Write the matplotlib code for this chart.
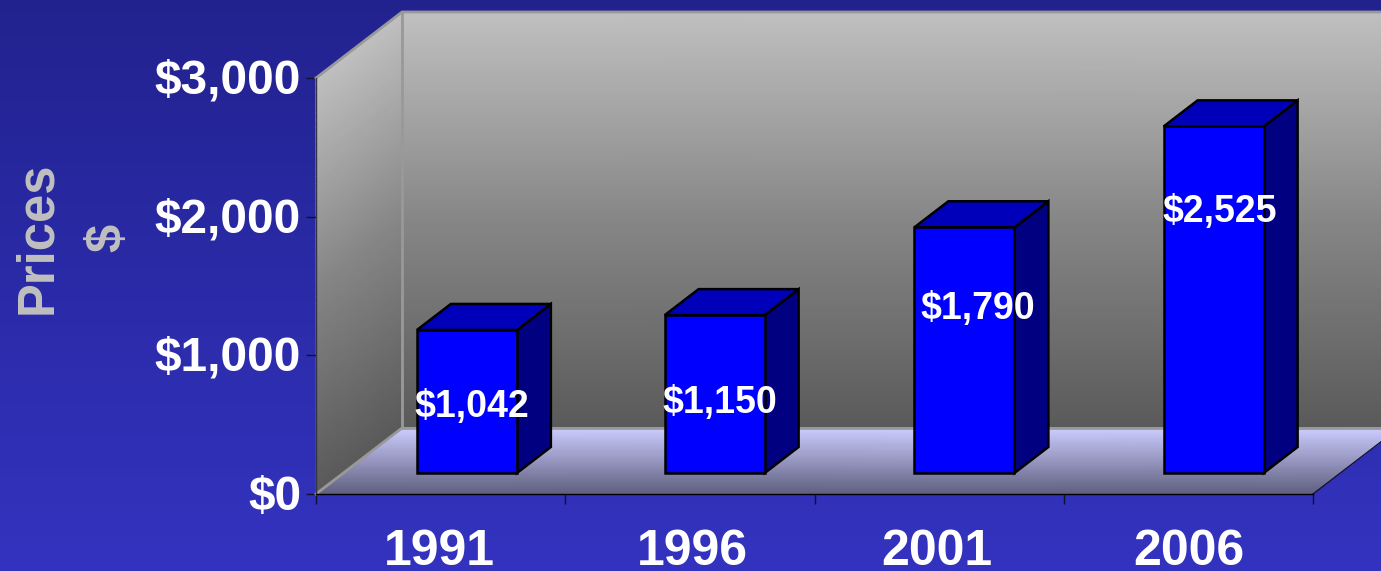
import numpy as np
import matplotlib
matplotlib.use("Agg")
import matplotlib.pyplot as plt
from matplotlib.colors import LinearSegmentedColormap
from matplotlib.patches import Polygon
from matplotlib.transforms import ScaledTranslation

# chart values
years = ["1991", "1996", "2001", "2006"]
prices = [1042, 1150, 1790, 2525]
price_labels = ["$1,042", "$1,150", "$1,790", "$2,525"]
y_ticks = [0, 1000, 2000, 3000]
y_tick_labels = ["$0", "$1,000", "$2,000", "$3,000"]

W, H = 1381, 571
plt.rcParams["font.family"] = ["Liberation Sans", "DejaVu Sans"]
plt.rcParams["font.weight"] = "bold"

fig = plt.figure(figsize=(W / 100, H / 100), dpi=100)

# slide background
bg = fig.add_axes([0, 0, 1, 1], zorder=0)
bg.axis("off")
bg_cmap = LinearSegmentedColormap.from_list("bg", ["#22228f", "#3333c0"])
bg.imshow(np.linspace(0, 1, 256).reshape(-1, 1), cmap=bg_cmap, aspect="auto")

# front plane of the chart box
ax = fig.add_axes([316 / W, (H - 494) / H, 997 / W, 416 / H], zorder=1)
ax.set_facecolor("none")
ax.set_xlim(0, 4)
ax.set_ylim(0, 3000)

px_per_value = 416 / 3000
px_per_cat = 997 / 4

# fake 3d: depth 0 is the front plane, depth 1 the back wall
depth_x = 86 / px_per_cat
depth_y = 66 / px_per_value


def project(x, y, d):
    return x + d * depth_x, y + d * depth_y


wall_cmap = LinearSegmentedColormap.from_list("wall", ["#5a5a5a", "#868686", "#c0c0c0"])
floor_cmap = LinearSegmentedColormap.from_list("floor", ["#5f5f80", "#ccccff"])
steps = np.linspace(0, 1, 60)

# back wall
xs, ys = np.meshgrid([0, 4], steps * 3000)
px, py = project(xs, ys, 1)
ax.pcolormesh(px, py, np.tile(steps[:, None], (1, 2)), cmap=wall_cmap, shading="gouraud",
              vmin=0, vmax=1, clip_on=False, zorder=1)

# left wall
ds, ys = np.meshgrid([0, 1], steps * 3000)
px, py = project(0 * ds, ys, ds)
ax.pcolormesh(px, py, np.tile(steps[:, None], (1, 2)), cmap=wall_cmap, shading="gouraud",
              vmin=0, vmax=1, clip_on=False, zorder=1)

# floor
xs, ds = np.meshgrid([0, 4], steps)
px, py = project(xs, 0 * xs, ds)
ax.pcolormesh(px, py, np.tile(steps[:, None], (1, 2)), cmap=floor_cmap, shading="gouraud",
              vmin=0, vmax=1, clip_on=False, zorder=1)

# grey wall edges
edge_lines = [[(0, 3000, 0), (0, 3000, 1), (4, 3000, 1)],
              [(0, 3000, 1), (0, 0, 1), (4, 0, 1)],
              [(0, 0, 0), (0, 0, 1)]]
for line in edge_lines:
    pts = np.array([project(*p) for p in line])
    ax.plot(pts[:, 0], pts[:, 1], color="#999999", lw=2, clip_on=False, zorder=2)

# right edge of the floor
pts = np.array([project(4, 0, 0), project(4, 0, 1)])
ax.plot(pts[:, 0], pts[:, 1], color="#10103a", lw=1, clip_on=False, zorder=2)

# bars
bar_width = 100 / px_per_cat
bar_shift = [-1, -2.5, -2, -2]  # px
bar_scale = 0.99  # the bars come out a touch short of the axis scale in the original
d0, d1 = 21 / 66, 47 / 66
label_drop = [77, 88, 82, 86]  # px below the bar top
label_shift = [4.5, 5.5, 13, 6]

for i, value in enumerate(prices):
    height = value * bar_scale
    x0 = i + 0.5 - bar_width / 2 + bar_shift[i] / px_per_cat
    x1 = x0 + bar_width
    front = [project(x0, 0, d0), project(x1, 0, d0), project(x1, height, d0), project(x0, height, d0)]
    side = [project(x1, 0, d0), project(x1, 0, d1), project(x1, height, d1), project(x1, height, d0)]
    top = [project(x0, height, d0), project(x1, height, d0), project(x1, height, d1), project(x0, height, d1)]
    for poly, colour in ((side, "#000080"), (top, "#0000bb"), (front, "#0000ff")):
        ax.add_patch(Polygon(poly, closed=True, facecolor=colour, edgecolor="black", lw=1.8,
                             joinstyle="miter", clip_on=False, zorder=3))
    tx, ty = project((x0 + x1) / 2, height, d0)
    ax.text(tx + label_shift[i] / px_per_cat, ty - label_drop[i] / px_per_value, price_labels[i],
            color="white", fontsize=27, ha="center", va="center", zorder=4, clip_on=False)

# axes
for name in ("top", "right"):
    ax.spines[name].set_visible(False)
ax.spines["left"].set_color("#33334a")
ax.spines["left"].set_linewidth(1)
ax.spines["bottom"].set_color("#000000")
ax.spines["bottom"].set_linewidth(1)
ax.spines["left"].set_zorder(5)
ax.spines["bottom"].set_zorder(5)

ax.set_yticks(y_ticks)
ax.set_yticklabels(y_tick_labels, fontsize=34.5, color="white")
ax.tick_params(axis="y", length=7.2, width=1, color="#101030", pad=3.5)
# tick labels sit 2px higher than centred
nudge = ScaledTranslation(0, 2 / 100, fig.dpi_scale_trans)
for label in ax.get_yticklabels():
    label.set_transform(label.get_transform() + nudge)

ax.set_xticks(range(5))
ax.set_xticklabels([])
ax.tick_params(axis="x", which="major", length=7.2, width=1, color="#101030")
year_shift = [-1, 2, -2, 0]
ax.set_xticks(np.arange(4) + 0.5 + np.array(year_shift) / px_per_cat, minor=True)
ax.set_xticklabels(years, minor=True, fontsize=36, color="white")
ax.tick_params(axis="x", which="minor", length=0, pad=25.5)

fig.text(73 / W, 1 - 238 / H, "Prices\n$", rotation=90, color="#c0c0c0", fontsize=36.5,
         ha="center", va="center", multialignment="center", linespacing=1.55)

fig.savefig("out.png", dpi=100)
